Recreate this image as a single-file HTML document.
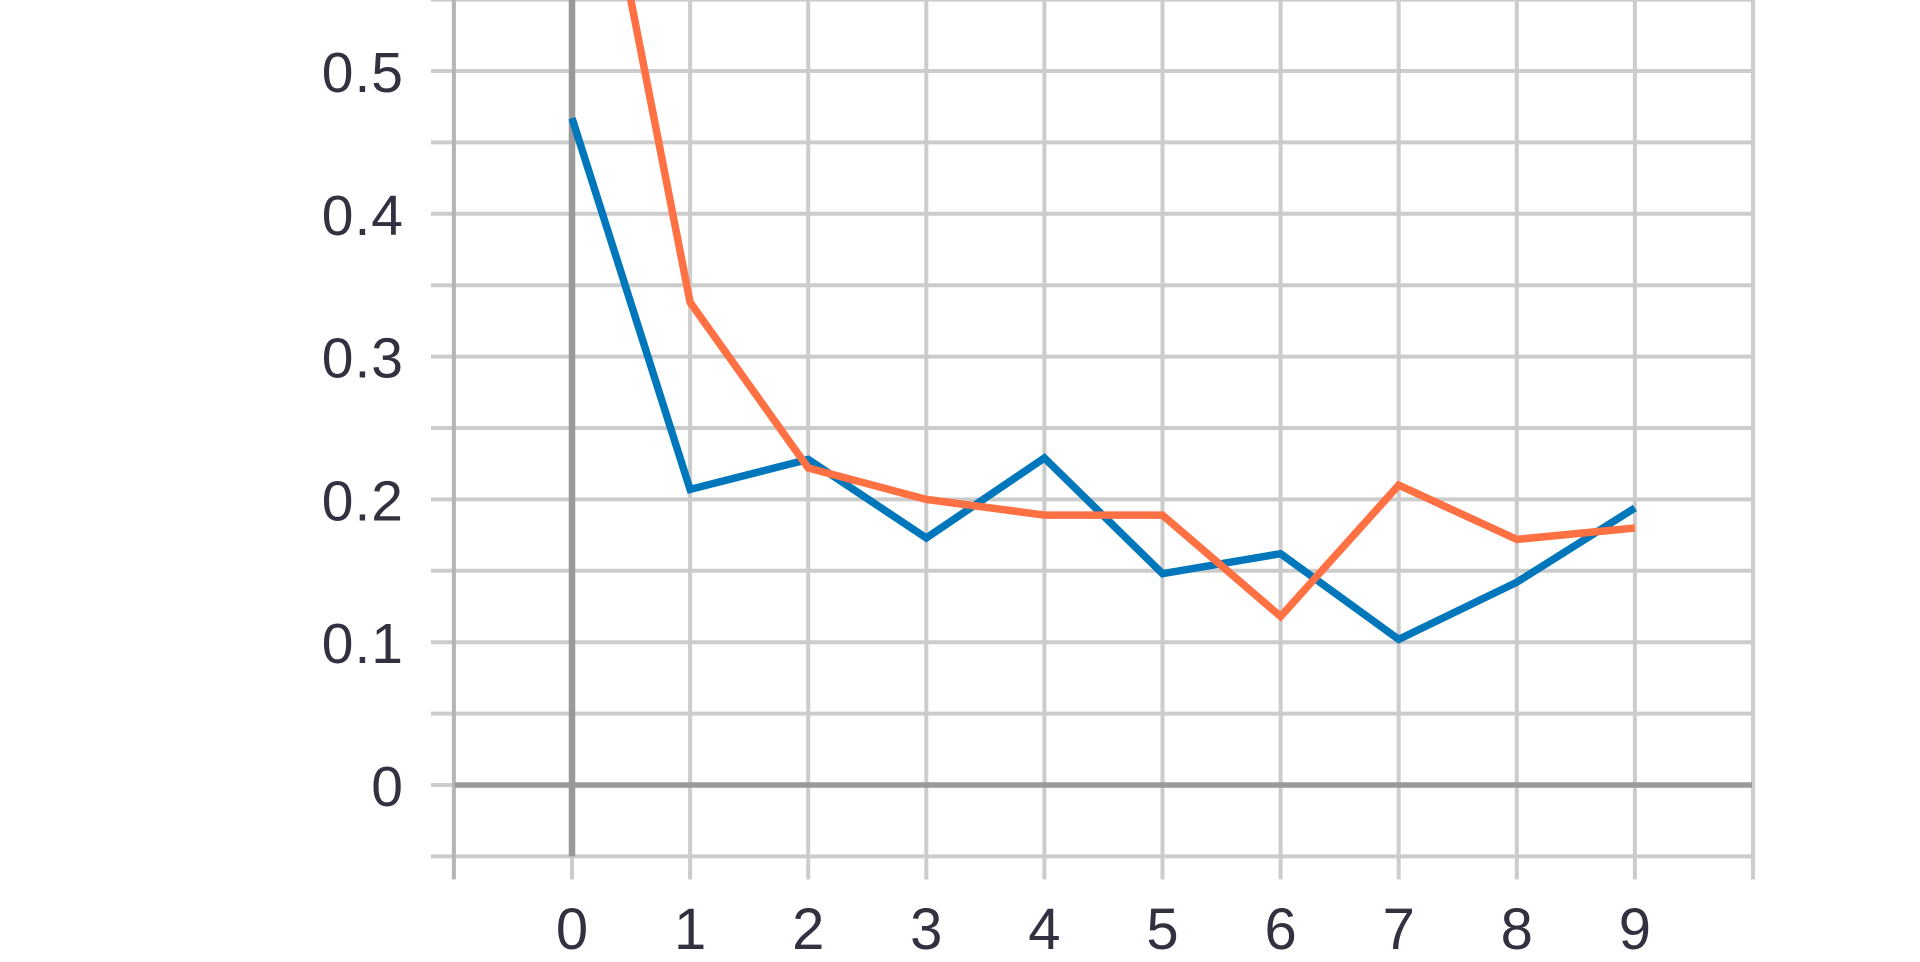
<!DOCTYPE html>
<html><head><meta charset="utf-8"><style>
html,body{margin:0;padding:0;background:#fff;}
svg{display:block;}
text{font-family:"Liberation Sans",sans-serif;fill:#33303f;}
</style></head><body>
<svg id="chart" width="1920" height="962" viewBox="0 0 1920 962" xmlns="http://www.w3.org/2000/svg">
<g id="grid"></g>
<g id="axes"></g>
<g id="series"></g>
<g id="labels"></g>
</svg>
<script>
const categories=[0,1,2,3,4,5,6,7,8,9];
const seriesBlue=[0.467,0.207,0.228,0.173,0.229,0.148,0.162,0.102,0.142,0.194];
const seriesOrange=[0.76,0.338,0.222,0.200,0.189,0.189,0.118,0.210,0.172,0.180];
const yTickValues=[0,0.1,0.2,0.3,0.4,0.5];
const yTickLabels=["0","0.1","0.2","0.3","0.4","0.5"];
const xTickLabels=["0","1","2","3","4","5","6","7","8","9"];

const NS="http://www.w3.org/2000/svg";
const X0=572,XS=118.1,Y0=785,YS=1428;
function xs(v){return X0+v*XS;}
function ys(v){return Y0-v*YS;}
const L=455,R=1752,T=0,B=ys(-0.05);
function mk(tag,attrs,parent){const e=document.createElementNS(NS,tag);for(const k in attrs)e.setAttribute(k,attrs[k]);parent.appendChild(e);return e;}
const grid=document.getElementById('grid'),axes=document.getElementById('axes'),ser=document.getElementById('series'),lab=document.getElementById('labels');
for(let i=-1;i<=11;i++){
  const v=i*0.05,y=ys(v);
  const l=mk('line',{x1:431,x2:R,y1:y,y2:y,stroke:'#cccccc','stroke-width':4},grid);
  
  
}
for(let i=-1;i<=10;i++){
  const x=xs(i);
  const l=mk('line',{x1:x,x2:x,y1:T,y2:B+23,stroke:i==-1?'#b5b5b5':'#cccccc','stroke-width':4},grid);
  
  
}
const xa=mk('line',{x1:L,x2:R,y1:ys(0),y2:ys(0),stroke:'#999','stroke-width':5.5},axes);


const ya=mk('line',{x1:xs(0),x2:xs(0),y1:T,y2:B,stroke:'#999','stroke-width':6.5},axes);


function drawLine(vals,color,name){
  const pts=vals.map((v,i)=>xs(categories[i])+','+ys(v)).join(' ');
  const p=mk('polyline',{points:pts,fill:'none',stroke:color,'stroke-width':7.5,'stroke-linejoin':'miter'},ser);
  
  
}
drawLine(seriesBlue,'#0077bb','series-blue-line');
drawLine(seriesOrange,'#ff7043','series-orange-line');
yTickValues.forEach((v,i)=>{
  const t=mk('text',{x:404,y:ys(v)+21,'text-anchor':'end','font-size':57,'letter-spacing':1},lab);
  t.textContent=yTickLabels[i];
  
  
});
categories.forEach((c,i)=>{
  const t=mk('text',{x:xs(c),y:949,'text-anchor':'middle','font-size':58},lab);
  t.textContent=xTickLabels[i];
  
  
});
</script>
</body></html>
